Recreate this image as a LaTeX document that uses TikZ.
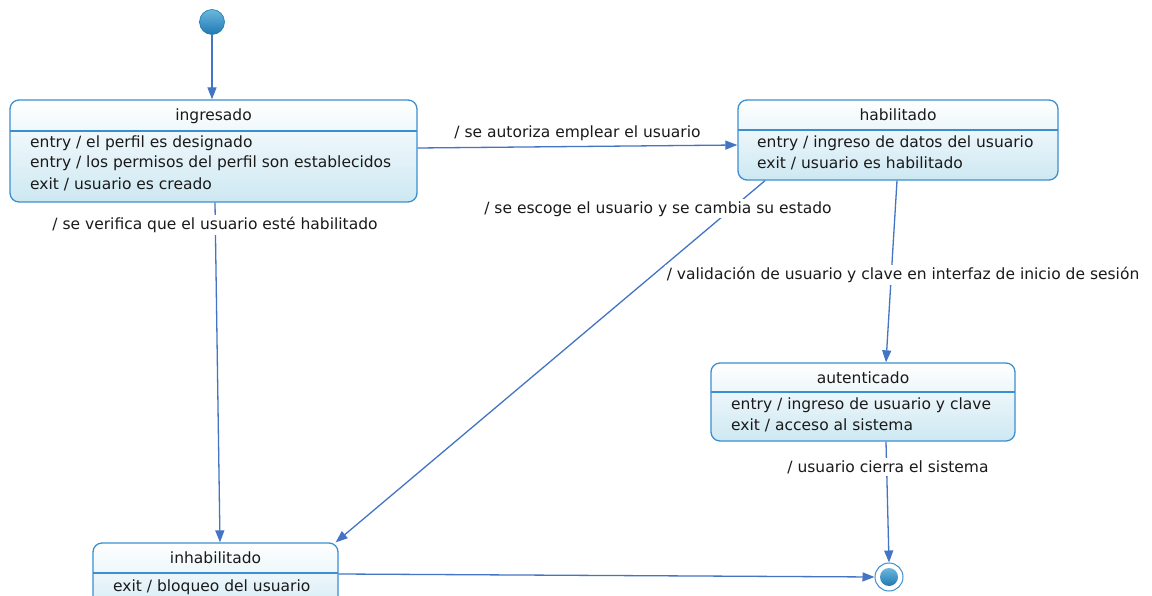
\documentclass[tikz,border=0pt]{standalone}
\usepackage{fontspec}
\setmainfont{DejaVu Sans}
\usetikzlibrary{arrows.meta,calc}
\definecolor{boxborder}{HTML}{3B8FD0}
\definecolor{boxfill}{HTML}{CDE8F2}
\definecolor{edge}{HTML}{4474C4}
\definecolor{txt}{HTML}{1A1A1A}
\definecolor{balltop}{HTML}{6BB8DC}
\definecolor{ballbot}{HTML}{1F78B4}
\begin{document}
\begin{tikzpicture}[x=1pt,y=-1pt,
  state/.style={draw=boxborder, line width=1.3pt, rounded corners=9pt, top color=white, bottom color=boxfill, inner sep=0pt},
  sep/.style={draw=boxborder, line width=1.3pt},
  title/.style={font=\fontsize{15.5}{18}\selectfont, text=txt, inner sep=1pt},
  act/.style={font=\fontsize{15.5}{18}\selectfont, text=txt, anchor=west, inner sep=1pt},
  lbl/.style={font=\fontsize{15.5}{18}\selectfont, text=txt, fill=white, inner sep=2pt},
  trans/.style={draw=edge, line width=1.3pt, -{Triangle[length=12pt,width=9pt]}}]
\useasboundingbox (0,0) rectangle (1152,596);
\fill[white] (0,0) rectangle (1152,596);

% initial and final states
\node[circle, minimum size=25pt, inner sep=0pt, draw=ballbot, line width=0.6pt, top color=balltop, bottom color=ballbot] (init) at (212,22) {};
\node[circle, minimum size=28pt, inner sep=0pt, draw=boxborder, line width=1pt, fill=white] (fin) at (889,577) {};
\node[circle, minimum size=18pt, inner sep=0pt, top color=balltop, bottom color=ballbot] (finin) at (fin) {};

% ingresado
\node[state, minimum width=407pt, minimum height=102pt] (ingresado) at (213.5,151) {};
\draw[sep] (10,131) -- (417,131);
\node[title] (t1) at (213.5,116) {ingresado};
\node[act] (a11) at (29,143) {entry / el perfil es designado};
\node[act] (a12) at (29,163) {entry / los permisos del perfil son establecidos};
\node[act] (a13) at (29,184) {exit / usuario es creado};

% habilitado
\node[state, minimum width=320pt, minimum height=80pt] (habilitado) at (898,140) {};
\draw[sep] (738,130) -- (1058,130);
\node[title] (t2) at (898,115) {habilitado};
\node[act] (a21) at (756,143) {entry / ingreso de datos del usuario};
\node[act] (a22) at (756,163) {exit / usuario es habilitado};

% autenticado
\node[state, minimum width=304pt, minimum height=78pt] (autenticado) at (863,402) {};
\draw[sep] (711,392) -- (1015,392);
\node[title] (t3) at (863,378) {autenticado};
\node[act] (a31) at (730,405) {entry / ingreso de usuario y clave};
\node[act] (a32) at (730,425) {exit / acceso al sistema};

% inhabilitado
\node[state, minimum width=245pt, minimum height=80pt] (inhabilitado) at (215.5,583) {};
\draw[sep] (93,573) -- (338,573);
\node[title] (t4) at (215.5,558) {inhabilitado};
\node[act] (a41) at (112,587) {exit / bloqueo del usuario};

% transitions
\draw[trans] (init.south) -- (init.south |- ingresado.north);
\draw[trans] ([yshift=3pt]ingresado.east) -- ([yshift=-5pt]habilitado.west)
  node[lbl, pos=0.5, yshift=13pt] (l1) {/ se autoriza emplear el usuario};
\draw[trans] ([xshift=1.5pt]ingresado.south) -- ([xshift=4.5pt]inhabilitado.north);
\node[lbl] (l2) at (215,225) {/ se verifica que el usuario esté habilitado};
\draw[trans] ([xshift=-133pt]habilitado.south) -- ([xshift=-3pt]inhabilitado.north east);
\node[lbl] (l3) at (658,209) {/ se escoge el usuario y se cambia su estado};
\draw[trans] ([xshift=-1pt]habilitado.south) -- ([xshift=23pt]autenticado.north);
\node[lbl] (l4) at (903,275) {/ validación de usuario y clave en interfaz de inicio de sesión};
\draw[trans] ([xshift=23pt]autenticado.south) -- (fin.north);
\node[lbl] (l5) at (888,467) {/ usuario cierra el sistema};
\draw[trans] ([yshift=9pt]inhabilitado.east) -- (fin.west);
\end{tikzpicture}
\end{document}
